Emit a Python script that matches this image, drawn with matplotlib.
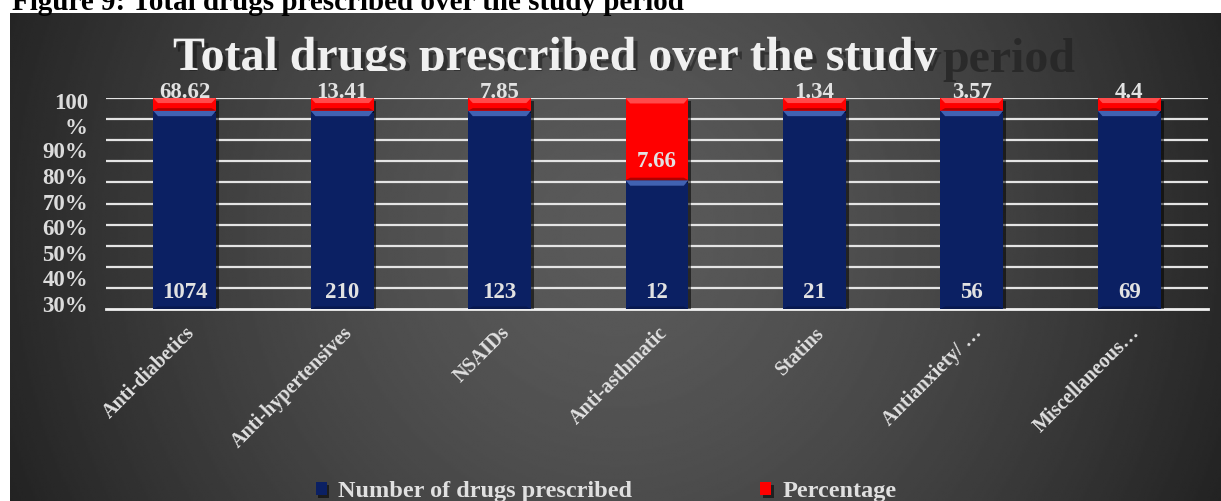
import numpy as np
import matplotlib.pyplot as plt
import matplotlib.patheffects as pe
from matplotlib.patches import Polygon
from matplotlib.transforms import Bbox, TransformedBbox

plt.rcParams['font.family'] = ['Liberation Serif', 'DejaVu Serif']
plt.rcParams['font.weight'] = 'bold'

categories = ['Anti-diabetics', 'Anti-hypertensives', 'NSAIDs', 'Anti-asthmatic',
              'Statins', 'Antianxiety/ \u2026', 'Miscellaneous\u2026']
n_drugs = [1074, 210, 123, 12, 21, 56, 69]
percent = [68.62, 13.41, 7.85, 7.66, 1.34, 3.57, 4.4]

# labels on the value axis sit on their own spacing, the grid is every 10 %
ytick_labels = ['100\n%', '90%', '80%', '70%', '60%', '50%', '40%', '30%']
ytick_pos = [93.4, 75.4, 63.0, 50.7, 38.9, 26.5, 14.7, 2.4]
grid_vals = np.arange(10, 101, 10)

W, H = 1221, 501
fig = plt.figure(figsize=(W / 100, H / 100), dpi=100, facecolor='white')

# dark radial backdrop of the chart frame
bg = fig.add_axes([10 / W, 0, (W - 10) / W, (H - 13) / H])
gx, gy = np.meshgrid(np.linspace(0, 1, 600), np.linspace(0, 1, 250))
r = np.sqrt(((gx - 0.5) / 0.55) ** 2 + ((gy - 0.45) / 1.4) ** 2)
shade = 0x5a - (0x5a - 0x22) * np.clip(r, 0, 1) ** 1.5
bg.imshow(shade / 255, cmap='gray', vmin=0, vmax=1, aspect='auto',
          extent=[0, 1, 0, 1], interpolation='bilinear')
bg.axis('off')

fig.text(12 / W, 1 - 9.5 / H, 'Figure 9: Total drugs prescribed over the study period',
         fontsize=21, color='black', ha='left', va='baseline')

ax = fig.add_axes([106 / W, 1 - 309 / H, 1102 / W, 211 / H])
ax.set_facecolor('none')

totals = np.array(n_drugs) + np.array(percent)
blue_share = np.array(n_drugs) / totals * 100
red_share = np.array(percent) / totals * 100
x = np.arange(len(categories))

ax.hlines(grid_vals, -0.5, len(categories) - 0.5, color='#e4e4e4', lw=1.6, zorder=1)

shadow = [pe.SimplePatchShadow(offset=(2, -2), shadow_rgbFace='black', alpha=0.55), pe.Normal()]
b1 = ax.bar(x, blue_share, width=0.4, color='#0b2063', zorder=3,
            label='Number of drugs prescribed', path_effects=shadow)
b2 = ax.bar(x, red_share, width=0.4, bottom=blue_share, color='#ff0000', zorder=3,
            label='Percentage', path_effects=shadow)

# bevelled top face on every segment
for bars, light, dark in [(b1, '#4162b2', '#08184d'), (b2, '#ff4a4a', '#b00000')]:
    for rect in bars:
        x0, y0 = rect.get_x(), rect.get_y()
        x1, y1 = x0 + rect.get_width(), y0 + rect.get_height()
        h = min(2.6, rect.get_height() * 0.4)
        ax.add_patch(Polygon([(x0, y1), (x1, y1), (x1 - 0.03, y1 - h), (x0 + 0.03, y1 - h)],
                             closed=True, color=light, lw=0, zorder=4))
        ax.add_patch(Polygon([(x0, y0), (x1, y0), (x1 - 0.03, y0 + 1.2), (x0 + 0.03, y0 + 1.2)],
                             closed=True, color=dark, lw=0, zorder=4))

for xi, n, p, bs in zip(x, n_drugs, percent, blue_share):
    ax.text(xi, 8, f'{n}', ha='center', va='center', fontsize=16.5,
            color='#e2e2e2', zorder=5)
    ax.text(xi, bs + 8.7, f'{p:g}', ha='center', va='center', fontsize=16.5,
            color='#e2e2e2', zorder=5)

ax.set_xlim(-0.5, len(categories) - 0.5)
ax.set_ylim(0, 100)
for s in ['top', 'right', 'left']:
    ax.spines[s].set_visible(False)
ax.spines['bottom'].set_color('#f0f0f0')
ax.spines['bottom'].set_linewidth(2)
ax.spines['bottom'].set_zorder(2)

ax.set_yticks(ytick_pos, ytick_labels, fontsize=16.5, color='#dcdcdc')
ax.set_xticks(x, categories, rotation=45, ha='right', rotation_mode='anchor',
              fontsize=14.5, color='#e0e0e0')
ax.tick_params(axis='y', length=0, pad=13)
ax.tick_params(axis='x', length=0, pad=10)

# chart title: white face cut at the baseline, last word left as shadow only
title_face = 'Total drugs prescribed over the study'
t = fig.text(173 / W, 1 - 70 / H, title_face, fontsize=34.5, color='#f0f0f0',
             ha='left', va='baseline',
             path_effects=[pe.SimplePatchShadow(offset=(3, -3), shadow_rgbFace='#111111',
                                                alpha=0.45), pe.Normal()])
t.set_clip_box(TransformedBbox(Bbox([[0, 1 - 71 / H], [1, 1]]), fig.transFigure))
t.set_clip_on(True)
fig.canvas.draw()
face_end = t.get_window_extent().x1
fig.text((face_end + 6) / W, 1 - 72 / H, 'period', fontsize=34.5, color='#262626',
         alpha=0.85, ha='left', va='baseline')

leg = fig.legend(handles=[b1, b2], loc='center', bbox_to_anchor=(606 / W, 1 - 492 / H),
                 ncol=2, frameon=False, fontsize=17.5, handlelength=0.45, handleheight=0.45,
                 handletextpad=0.45, columnspacing=5.3)
for txt in leg.get_texts():
    txt.set_color('#e0e0e0')

fig.savefig('out.png', dpi=100, facecolor='white')
